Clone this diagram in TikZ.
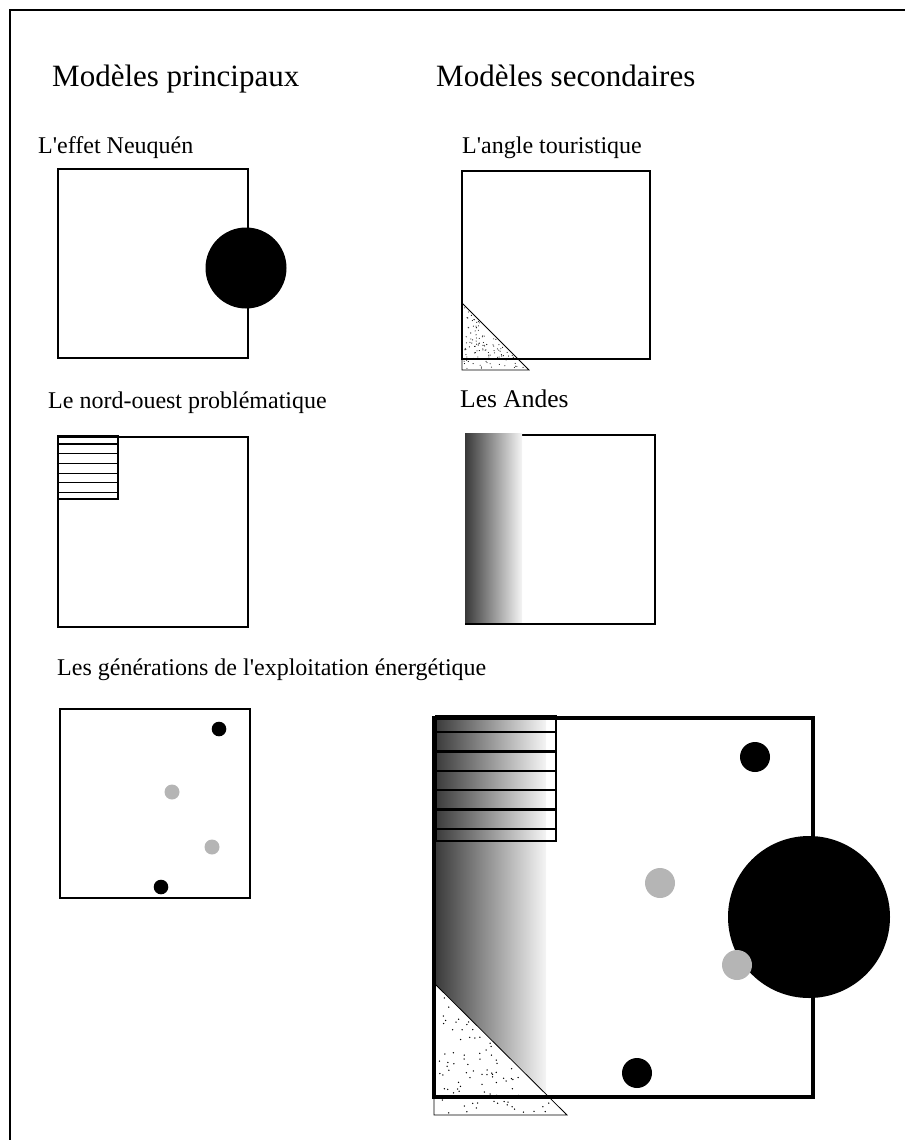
\documentclass[tikz,border=0pt]{standalone}
\usepackage{fontspec}
\setmainfont{Liberation Serif}
\definecolor{ashgrey}{gray}{0.71}
\begin{document}
\begin{tikzpicture}[x=1pt,y=-1pt,
  heading/.style={anchor=base west, inner sep=0pt, font=\fontsize{31}{36}\selectfont},
  caption/.style={anchor=base west, inner sep=0pt, font=\fontsize{24}{28}\selectfont},
  modelbox/.style={draw, line width=2.5pt},
  bigbox/.style={draw, line width=4.5pt},
  sandbox/.style={draw, fill=white, line width=0.8pt},
  relief/.style={left color=black!78, right color=black!4}]
\useasboundingbox (0,0) rectangle (905,1140);
% outer frame (open at right and bottom)
\draw[line width=2.2pt] (10,1140) -- (10,10) -- (905,10);
% headings
\node[heading] (main) at (52,86) {Modèles principaux};
\node[heading] (second) at (436,86) {Modèles secondaires};
% L'effet Neuquen
\node[caption] (neuquen) at (38,153) {L\textquotesingle effet Neuquén};
\draw[modelbox] (58,169) rectangle (248,358);
\fill (246,268) circle (40.5pt);
% L'angle touristique
\node[caption] (angle) at (462,153) {L\textquotesingle angle touristique};
\draw[sandbox] (462,303) -- (462,370) -- (529,370) -- cycle;
\pgfmathsetseed{11}
\foreach \i in {1,...,110} {
  \pgfmathsetmacro\u{rnd}
  \pgfmathsetmacro\v{rnd}
  \fill ({462+2+min(\u,\v)*62},{303+4+max(\u,\v)*62}) circle (0.55pt);
}
\draw[modelbox] (462,171) rectangle (650,359);
% Le nord-ouest
\node[caption] (nordouest) at (48,408) {Le nord-ouest problématique};
\draw[modelbox] (58,437) rectangle (248,627);
\draw[line width=1.1pt] (58,436) rectangle (118,499);
\foreach \y in {444,453.7,463.4,473.1,482.8,492.5}
  \draw[line width=1.1pt] (58,\y) -- (118,\y);
% Les Andes
\node[caption, font=\fontsize{25.5}{30}\selectfont] (andes) at (460,407) {Les Andes};
\draw[modelbox] (466,435) rectangle (655,624);
\shade[relief] (465,433.5) rectangle (522,622.5);
% generations
\node[caption] (generations) at (57,675) {Les générations de l\textquotesingle exploitation énergétique};
\draw[modelbox] (60,709) rectangle (250,898);
\fill (219,729) circle (7.3pt);
\fill[ashgrey] (172,792) circle (7.5pt);
\fill[ashgrey] (212,847) circle (7.5pt);
\fill (161,887) circle (7.3pt);
% synthesis
\shade[relief] (434,718) rectangle (546,1096);
\draw[line width=2.5pt] (436,716) rectangle (556,841);
\foreach \y in {732,751.4,770.8,790.2,809.6,829}
  \draw[line width=2.5pt] (436,\y) -- (556,\y);
\draw[sandbox] (434,983) -- (434,1115) -- (567,1115) -- cycle;
\pgfmathsetseed{5}
\foreach \i in {1,...,90} {
  \pgfmathsetmacro\u{rnd}
  \pgfmathsetmacro\v{rnd}
  \fill ({434+4+min(\u,\v)*124},{983+8+max(\u,\v)*122}) circle (0.75pt);
}
\draw[bigbox] (434,718) rectangle (813,1097);
\fill (809,917) circle (81pt);
\fill (755,757) circle (15pt);
\fill[ashgrey] (660,883) circle (15pt);
\fill[ashgrey] (737,965) circle (15pt);
\fill (637,1073) circle (15pt);
\end{tikzpicture}
\end{document}
